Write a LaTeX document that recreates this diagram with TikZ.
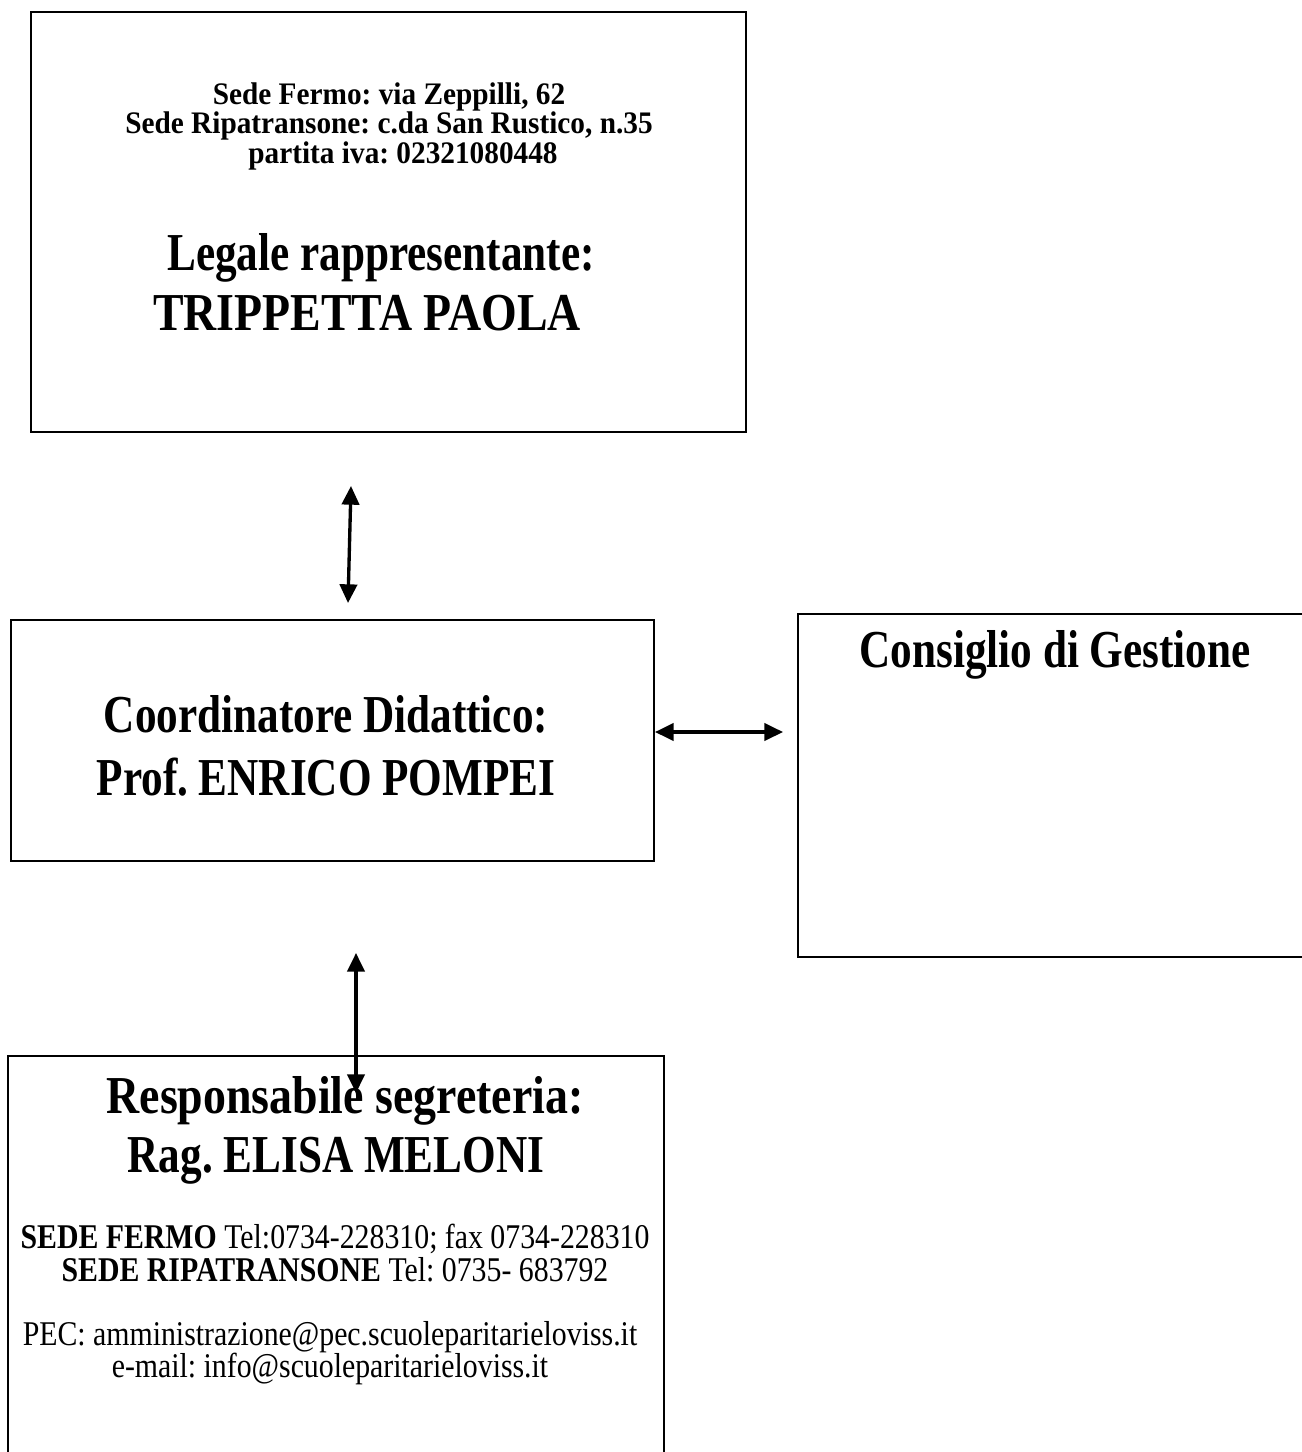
\documentclass[tikz,border=0pt]{standalone}
\usepackage{fontspec}
\setmainfont{Liberation Serif}
\newfontfamily\narrowf[FakeStretch=0.81]{Liberation Serif}
\newfontfamily\widef[FakeStretch=0.86]{Liberation Serif}
\newfontfamily\smallf[FakeStretch=0.935]{Liberation Serif}
\newfontfamily\infof[FakeStretch=0.86]{Liberation Serif}
\usetikzlibrary{arrows.meta,fit}
\tikzset{
  box/.style={draw=black, line width=1.1pt, inner sep=0pt},
  bigtxt/.style={anchor=base, inner sep=0pt, font=\frenchspacing\narrowf\bfseries\fontsize{40pt}{44pt}\selectfont},
  bigwide/.style={anchor=base, inner sep=0pt, font=\frenchspacing\widef\bfseries\fontsize{40pt}{44pt}\selectfont},
  smalltxt/.style={anchor=base, inner sep=0pt, font=\frenchspacing\smallf\bfseries\fontsize{23.5pt}{27pt}\selectfont},
  infotxt/.style={anchor=base, inner sep=0pt, font=\frenchspacing\infof\fontsize{26pt}{29pt}\selectfont},
  link/.style={line width=2.5pt, {Triangle[width=13pt,length=14pt]}-{Triangle[width=13pt,length=14pt]}}
}
\begin{document}
\begin{tikzpicture}[x=0.75pt,y=-0.75pt]
\clip (0,0) rectangle (1302,1452);
\fill[white] (0,0) rectangle (1302,1452);
% boxes
\node[box, fit={(31,12) (746,432)}] (legale) {};
\node[box, fit={(11,620) (654,861)}] (coord) {};
\node[box, fit={(798,614) (1320,957)}] (consiglio) {};
\node[box, fit={(8,1056) (664,1480)}] (segr) {};
% top box text
\node[smalltxt] (t1) at (389,105) {Sede Fermo: via Zeppilli, 62};
\node[smalltxt] (t2) at (389,134) {Sede Ripatransone: c.da San Rustico, n.35};
\node[smalltxt] (t3) at (403,164) {partita iva: 02321080448};
\node[bigtxt] (t4) at (381,270) {Legale rappresentante:};
\node[bigwide] (t5) at (367,330) {TRIPPETTA PAOLA};
% coordinator
\node[bigtxt] (c1) at (326,732) {Coordinatore Didattico:};
\node[bigtxt] (c2) at (326,795) {Prof. ENRICO POMPEI};
% consiglio
\node[bigtxt] (g1) at (1055,667) {Consiglio di Gestione};
% segreteria
\node[bigwide] (s1) at (345,1113) {Responsabile segreteria:};
\node[bigtxt] (s2) at (336,1172) {Rag. ELISA MELONI};
\node[infotxt] (s3) at (335,1248) {\textbf{SEDE FERMO} Tel:0734-228310; fax 0734-228310};
\node[infotxt] (s4) at (335,1281) {\textbf{SEDE RIPATRANSONE} Tel: 0735- 683792};
\node[infotxt] (s5) at (330,1345) {PEC: amministrazione@pec.scuoleparitarieloviss.it};
\node[infotxt] (s6) at (330,1377) {e-mail: info@scuoleparitarieloviss.it};
% arrows
\coordinate (a1) at (351,486);
\coordinate (a2) at (348,603);
\coordinate (b1) at (655,732);
\coordinate (b2) at (783,732);
\coordinate (d1) at (356,953);
\coordinate (d2) at (356,1093);
\draw[link] (a1) -- (a2);
\draw[link] (b1) -- (b2);
\draw[link] (d1) -- (d2);
\end{tikzpicture}
\end{document}
